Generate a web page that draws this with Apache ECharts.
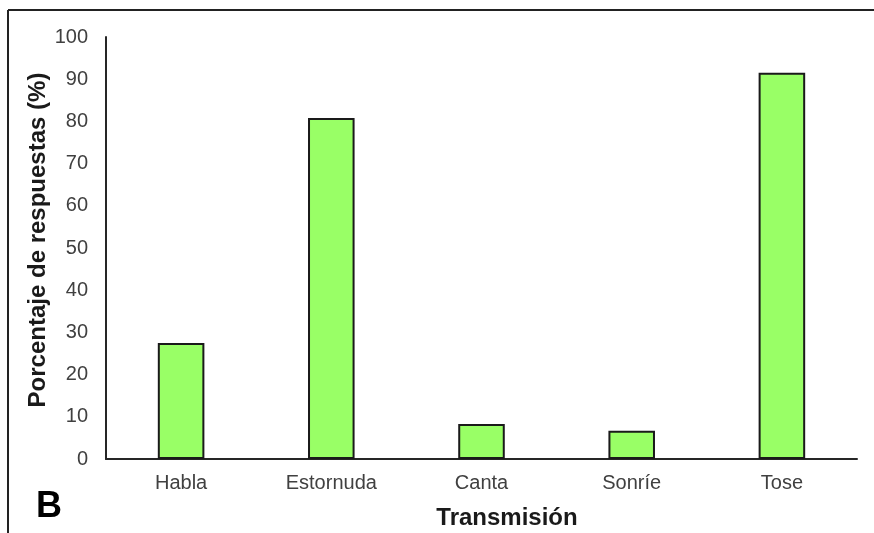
<!DOCTYPE html>
<html>
<head>
<meta charset="utf-8">
<script src="https://cdn.jsdelivr.net/npm/echarts@6/dist/echarts.min.js"></script>
<style>
  html, body { margin: 0; padding: 0; background: #fff; }
  #chart { width: 874px; height: 533px; }
</style>
</head>
<body>
<div id="chart"></div>
<script>
// datos
var categorias = ['Habla', 'Estornuda', 'Canta', 'Sonríe', 'Tose'];
var porcentajes = [27.5, 80.8, 8.3, 6.7, 91.5];
var ticksY = [0, 10, 20, 30, 40, 50, 60, 70, 80, 90, 100];

var myChart = echarts.init(document.getElementById('chart'));

var option = {
    backgroundColor: '#ffffff',
    animation: false,
    grid: {
        left: 106,
        right: 17,
        top: 37,
        bottom: 74
    },
    xAxis: {
        type: 'category',
        data: categorias,
        axisLine: { lineStyle: { color: '#262626', width: 2 } },
        axisTick: { show: false },
        axisLabel: {
            color: '#404040',
            fontFamily: 'Liberation Sans, Arial',
            fontSize: 20,
            margin: 14
        }
    },
    yAxis: {
        type: 'value',
        min: ticksY[0],
        max: ticksY[ticksY.length - 1],
        interval: 10,
        splitLine: { show: false },
        axisLine: { show: true, lineStyle: { color: '#262626', width: 2 } },
        axisTick: { show: false },
        axisLabel: {
            color: '#404040',
            fontFamily: 'Liberation Sans, Arial',
            fontSize: 20,
            margin: 18
        }
    },
    series: [
        {
            type: 'bar',
            data: porcentajes,
            barWidth: '31%',
            itemStyle: {
                color: '#99ff66',
                borderColor: '#1a1a1a',
                borderWidth: 2
            }
        }
    ],
    graphic: [
        // marco recortado
        { type: 'line', shape: { x1: 8, y1: 10, x2: 874, y2: 10 }, style: { stroke: '#222', lineWidth: 2 } },
        { type: 'line', shape: { x1: 8, y1: 10, x2: 8, y2: 533 }, style: { stroke: '#222', lineWidth: 2 } },
        {
            type: 'text', x: 38, y: 240, rotation: Math.PI / 2,
            style: {
                text: 'Porcentaje de respuestas (%)',
                fill: '#1a1a1a',
                font: 'bold 24px "Liberation Sans", Arial',
                align: 'center', verticalAlign: 'middle'
            }
        },
        {
            type: 'text', x: 507, y: 518,
            style: {
                text: 'Transmisión',
                fill: '#1a1a1a',
                font: 'bold 24px "Liberation Sans", Arial',
                align: 'center', verticalAlign: 'middle'
            }
        },
        {
            type: 'text', x: 49, y: 507,
            style: {
                text: 'B',
                fill: '#000',
                font: 'bold 36px "Liberation Sans", Arial',
                align: 'center', verticalAlign: 'middle'
            }
        }
    ]
};

myChart.setOption(option);
</script>
</body>
</html>
